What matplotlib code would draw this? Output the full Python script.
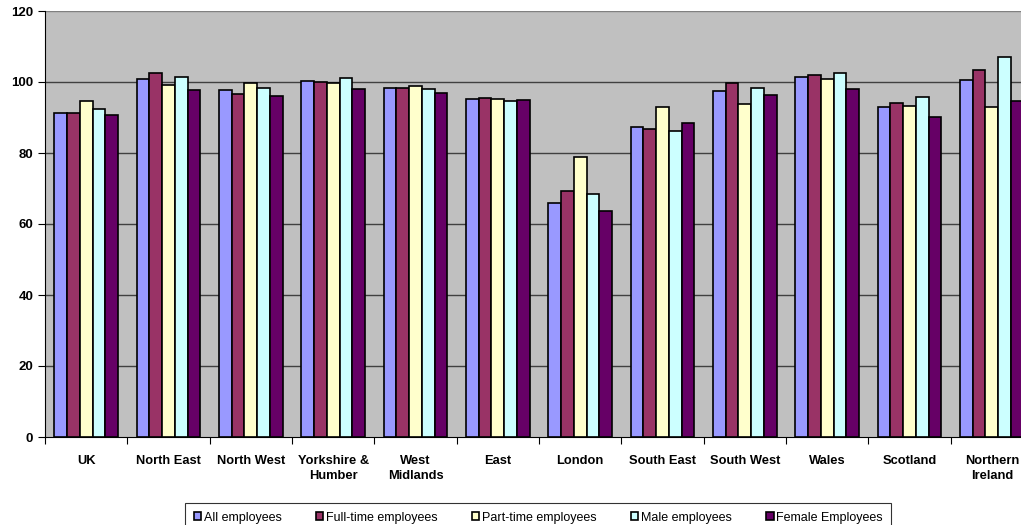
import numpy as np
import matplotlib
matplotlib.use('Agg')
from matplotlib import pyplot as plt

# data
regions = ['UK', 'North East', 'North West', 'Yorkshire &\nHumber', 'West\nMidlands',
           'East', 'London', 'South East', 'South West', 'Wales', 'Scotland',
           'Northern\nIreland']
all_emp = [91.4, 100.8, 97.8, 100.2, 98.4, 95.3, 65.8, 87.2, 97.6, 101.3, 93.0, 100.6]
full_time = [91.4, 102.5, 96.5, 100.1, 98.2, 95.6, 69.2, 86.9, 99.8, 102.1, 94.2, 103.5]
part_time = [94.7, 99.2, 99.6, 99.6, 98.8, 95.1, 78.9, 93.0, 93.7, 100.9, 93.2, 93.0]
male = [92.3, 101.4, 98.2, 101.0, 98.1, 94.7, 68.5, 86.3, 98.2, 102.5, 95.8, 107.0]
female = [90.7, 97.8, 96.0, 98.0, 97.0, 94.8, 63.7, 88.5, 96.2, 98.0, 90.1, 94.6]

series = [('All employees', all_emp, '#9999FF'),
          ('Full-time employees', full_time, '#993366'),
          ('Part-time employees', part_time, '#FFFFCC'),
          ('Male employees', male, '#CCFFFF'),
          ('Female Employees', female, '#660066')]

plt.rcParams['font.family'] = ['Liberation Sans', 'DejaVu Sans']

fig = plt.figure(figsize=(10.21, 5.25), dpi=100)
# plot area runs past the right edge, like the cropped original
ax = fig.add_axes([45/1021, 88/525, 988/1021, 426/525])
ax.set_facecolor('#C0C0C0')

x = np.arange(len(regions))
w = 0.154
for i, (name, vals, col) in enumerate(series):
    ax.bar(x + (i - 2) * w, vals, w, color=col, edgecolor='black',
           linewidth=1.2, label=name, zorder=3)

ax.set_ylim(0, 120)
ax.set_xlim(-0.5, len(regions) - 0.5)
ax.set_yticks(range(0, 121, 20))
for yv in range(20, 121, 20):
    ax.axhline(yv, color='#404040' if yv < 120 else '#808080', lw=1, zorder=1)

# ticks on category boundaries, labels centred under groups
ax.set_xticks(np.arange(-0.5, len(regions), 1.0))
ax.set_xticklabels([])
ax.set_xticks(x, minor=True)
ax.set_xticklabels(regions, minor=True, fontsize=9.3, fontweight='bold',
                   linespacing=1.3)
ax.tick_params(axis='x', which='minor', length=0, pad=13)
ax.tick_params(axis='x', which='major', length=5, color='black')
ax.tick_params(axis='y', length=5, labelsize=9.5)
for lab in ax.get_yticklabels():
    lab.set_fontweight('bold')

for s in ['top', 'right']:
    ax.spines[s].set_visible(False)
ax.spines['left'].set_color('black')
ax.spines['bottom'].set_color('black')

leg = fig.legend(loc='upper center', bbox_to_anchor=(0.527, 0.054), ncol=5,
                 fontsize=9, frameon=True, fancybox=False, edgecolor='black',
                 handlelength=0.6, handleheight=0.6, handletextpad=0.2,
                 columnspacing=2.75, borderpad=0.7)
leg.get_frame().set_linewidth(0.8)

fig.savefig('out.png', dpi=100)
